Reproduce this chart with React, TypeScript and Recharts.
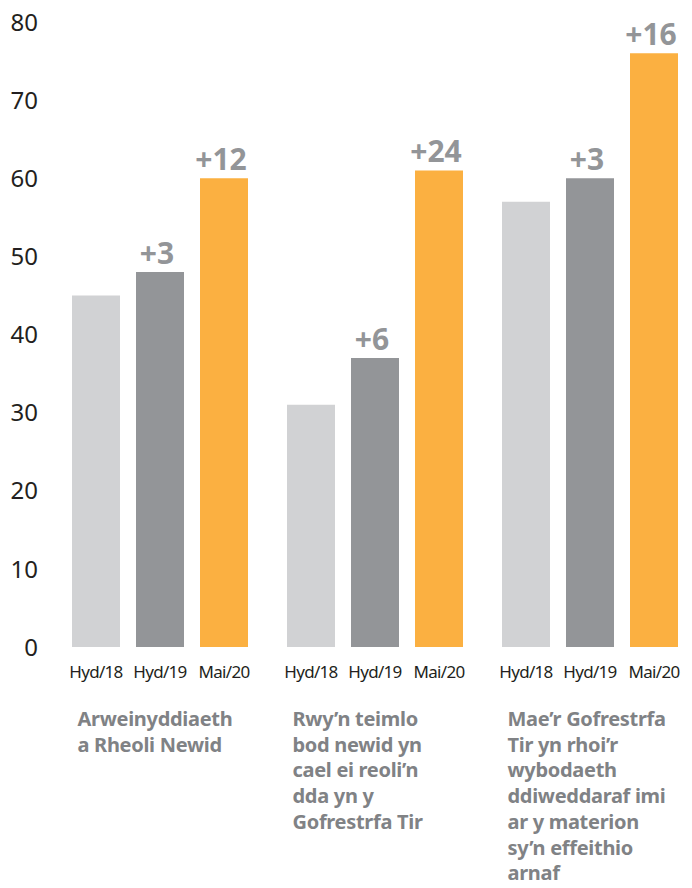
import React from 'react';
import { BarChart, Bar, XAxis, YAxis, LabelList } from 'recharts';

const GROUP_TITLES = [
  ['Arweinyddiaeth', 'a Rheoli Newid'],
  ['Rwy’n teimlo', 'bod newid yn', 'cael ei reoli’n', 'dda yn y', 'Gofrestrfa Tir'],
  ['Mae’r Gofrestrfa', 'Tir yn rhoi’r', 'wybodaeth', 'ddiweddaraf imi', 'ar y materion', 'sy’n effeithio', 'arnaf'],
];
const SERIES_NAMES = ['Hyd/18', 'Hyd/19', 'Mai/20'];
const HYD18 = [45, 31, 57];
const HYD19 = [48, 37, 60];
const MAI20 = [60, 61, 76];
const CHANGE19 = ['+3', '+6', '+3'];
const CHANGE20 = ['+12', '+24', '+16'];
const Y_TICKS = [0, 10, 20, 30, 40, 50, 60, 70, 80];

const COLORS = ['#d1d2d4', '#939598', '#fbb041'];
const FONT = '"Noto Sans", sans-serif';

const data = GROUP_TITLES.map((_, i) => ({
  key: i,
  hyd18: HYD18[i],
  hyd19: HYD19[i],
  mai20: MAI20[i],
  c19: CHANGE19[i],
  c20: CHANGE20[i],
}));

const YTick = (props: any) => {
  const { y, payload } = props;
  return (
    <text x={38} y={y} dy="0.36em" textAnchor="end" fontFamily={FONT} fontSize={24} fill="#231f20">
      {payload.value}
    </text>
  );
};

const GroupTick = (props: any) => {
  const { x, y, payload } = props;
  const lines = GROUP_TITLES[payload.value] || [];
  return (
    <g>
      {lines.map((line, i) => (
        <text
          key={i}
          x={x - 82}
          y={y + 71 + i * 25.7}
          textAnchor="start"
          fontFamily={FONT}
          fontWeight={700}
          fontSize={20}
          letterSpacing={-0.3}
          fill="#808285"
        >
          {line}
        </text>
      ))}
    </g>
  );
};

// small period label under each bar
const barName = (name: string) => (props: any) => {
  const { x, y, width, height } = props;
  return (
    <text
      x={x + width / 2}
      y={y + height + 31}
      textAnchor="middle"
      fontFamily={FONT}
      fontSize={17}
      letterSpacing={-0.7}
      fill="#231f20"
    >
      {name}
    </text>
  );
};

const changeLabel = (props: any) => {
  const { x, y, width, value } = props;
  if (!value) return null;
  return (
    <text
      x={x + width / 2 - 3}
      y={y - 8}
      textAnchor="middle"
      fontFamily={FONT}
      fontWeight={700}
      fontSize={30}
      fill="#939598"
    >
      {value}
    </text>
  );
};

const App = () => {
  return (
    <div style={{ width: 692, height: 888, margin: '-8px 0 0 -8px' }}>
      <BarChart
        width={692}
        height={888}
        data={data}
        margin={{ top: 22, right: -5, left: 0, bottom: 1 }}
        barCategoryGap={20}
        barGap={16}
      >
        <XAxis dataKey="key" axisLine={false} tickLine={false} height={240} tick={<GroupTick />} interval={0} />
        <YAxis
          domain={[0, 80]}
          ticks={Y_TICKS}
          width={52}
          axisLine={false}
          tickLine={false}
          tick={<YTick />}
          interval={0}
        />
        <Bar dataKey="hyd18" fill={COLORS[0]} isAnimationActive={false}>
          <LabelList dataKey="hyd18" content={barName(SERIES_NAMES[0])} />
        </Bar>
        <Bar dataKey="hyd19" fill={COLORS[1]} isAnimationActive={false}>
          <LabelList dataKey="hyd19" content={barName(SERIES_NAMES[1])} />
          <LabelList dataKey="c19" content={changeLabel} />
        </Bar>
        <Bar dataKey="mai20" fill={COLORS[2]} isAnimationActive={false}>
          <LabelList dataKey="mai20" content={barName(SERIES_NAMES[2])} />
          <LabelList dataKey="c20" content={changeLabel} />
        </Bar>
      </BarChart>
    </div>
  );
};

export default App;
